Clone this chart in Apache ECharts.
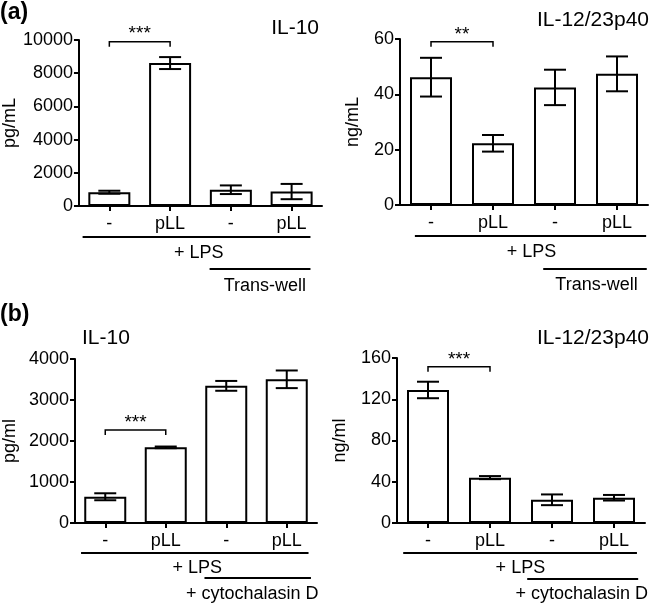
<!DOCTYPE html>
<html>
<head>
<meta charset="utf-8">
<script src="https://cdn.jsdelivr.net/npm/echarts@6/dist/echarts.min.js"></script>
<style>
html,body{margin:0;padding:0;background:#fff;}
#c{width:650px;height:605px;}
</style>
</head>
<body>
<div id="c"></div>
<script>
// ---- data ----
const categories = ['-', 'pLL', '-', 'pLL'];

const il10A = [830, 8610, 980, 870];
const il10AErr = [90, 360, 260, 460];
const il12A = [46.2, 22.3, 42.5, 47.4];
const il12AErr = [7, 3, 6.4, 6.3];

const il10B = [640, 1845, 3345, 3505];
const il10BErr = [85, 20, 120, 215];
const il12B = [129, 44, 22.5, 24.5];
const il12BErr = [8, 1.5, 5.2, 2.7];

const yMaxes = [10000, 60, 4000, 160];
const yIntervals = [2000, 20, 1000, 40];
const yNames = ['pg/mL', 'ng/mL', 'pg/ml', 'ng/ml'];

// significance brackets: [fromCategory, toCategory, level, label]
const sigA1 = [0, 1, 9900, '***'];
const sigA2 = [0, 1, 59, '**'];
const sigB1 = [0, 1, 2270, '***'];
const sigB2 = [0, 1, 151.5, '***'];

// ---- layout / style ----
const FONT = '"Liberation Sans", Arial, Helvetica, sans-serif';
const values = [il10A, il12A, il10B, il12B];
const errs = [il10AErr, il12AErr, il10BErr, il12BErr];
const sigs = [sigA1, sigA2, sigB1, sigB2];
const grids = [
  {left: 74, top: 40, width: 248, height: 166},
  {left: 400, top: 39, width: 248, height: 166},
  {left: 70, top: 359, width: 247, height: 164},
  {left: 397, top: 358, width: 248, height: 165}
];
const nameGaps = [56, 38, 56, 48];

const option = {
  animation: false,
  backgroundColor: '#fff',
  grid: grids.map(g => Object.assign({containLabel: false}, g)),
  xAxis: grids.map((g, i) => ({
    type: 'category', gridIndex: i, data: categories,
    axisLine: {show: true, lineStyle: {color: '#000', width: 2}},
    axisTick: {show: true, alignWithLabel: true, length: 5, lineStyle: {color: '#000', width: 2}},
    axisLabel: {color: '#000', fontSize: 18, fontFamily: FONT, margin: 9, interval: 0},
    splitLine: {show: false}
  })),
  yAxis: grids.map((g, i) => ({
    type: 'value', gridIndex: i, min: 0, max: yMaxes[i], interval: yIntervals[i],
    name: yNames[i], nameLocation: 'middle', nameGap: nameGaps[i], nameRotate: 90,
    nameTextStyle: {color: '#000', fontSize: 18, fontFamily: FONT},
    axisLine: {show: true, lineStyle: {color: '#000', width: 2}},
    axisTick: {show: true, length: 5, lineStyle: {color: '#000', width: 2}},
    axisLabel: {color: '#000', fontSize: 18, fontFamily: FONT, margin: 6, formatter: v => String(v)},
    splitLine: {show: false}
  })),
  series: []
};

values.forEach((vals, i) => {
  option.series.push({
    type: 'bar', xAxisIndex: i, yAxisIndex: i, barWidth: 42,
    data: vals,
    itemStyle: {color: '#fff', borderColor: '#000', borderWidth: 2},
    z: 2
  });
  option.series.push({
    type: 'custom', xAxisIndex: i, yAxisIndex: i, z: 5,
    data: vals.map((v, k) => [k, v - errs[i][k], v + errs[i][k]]),
    renderItem: function (params, api) {
      const x = api.value(0);
      const lo = api.coord([x, api.value(1)]);
      const hi = api.coord([x, api.value(2)]);
      const hw = 11;
      const st = {stroke: '#000', lineWidth: 2, fill: null};
      return {type: 'group', children: [
        {type: 'line', shape: {x1: lo[0], y1: lo[1], x2: hi[0], y2: hi[1]}, style: st},
        {type: 'line', shape: {x1: lo[0] - hw, y1: lo[1], x2: lo[0] + hw, y2: lo[1]}, style: st},
        {type: 'line', shape: {x1: hi[0] - hw, y1: hi[1], x2: hi[0] + hw, y2: hi[1]}, style: st}
      ]};
    }
  });
  option.series.push({
    type: 'custom', xAxisIndex: i, yAxisIndex: i, z: 6, clip: false,
    data: [sigs[i]],
    renderItem: function (params, api) {
      const a = api.coord([api.value(0), api.value(2)]);
      const b = api.coord([api.value(1), api.value(2)]);
      const d = 5;
      return {type: 'group', children: [
        {type: 'polyline', shape: {points: [[a[0], a[1] + d], [a[0], a[1]], [b[0], b[1]], [b[0], b[1] + d]]},
          style: {stroke: '#000', lineWidth: 1.5, fill: null}},
        {type: 'text', style: {text: sigs[i][3], x: (a[0] + b[0]) / 2, y: a[1] + 2,
          align: 'center', verticalAlign: 'bottom', fill: '#000', font: '19px ' + FONT}}
      ]};
    }
  });
});

const chart = echarts.init(document.getElementById('c'), null, {renderer: 'canvas'});
chart.setOption(option);

// ---- annotations below the axes (category units relative to first category) ----
const groupNotes = [
  {lines: [[-0.44, 3.31, 31], [1.65, 3.31, 63]], texts: [['+ LPS', 1.47, 47], ['Trans-well', 2.56, 80]]},
  {lines: [[-0.26, 3.47, 31], [1.81, 3.48, 64]], texts: [['+ LPS', 1.62, 47], ['Trans-well', 2.67, 80]]},
  {lines: [[-0.40, 3.36, 30], [1.64, 3.40, 55]], texts: [['+ LPS', 1.52, 45], ['+ cytochalasin D', 2.43, 71]]},
  {lines: [[-0.40, 3.37, 30], [1.60, 3.39, 56]], texts: [['+ LPS', 1.49, 45], ['+ cytochalasin D', 2.48, 71]]}
];
const graphics = [];
groupNotes.forEach((n, i) => {
  const c0 = chart.convertToPixel({xAxisIndex: i}, 0);
  const c3 = chart.convertToPixel({xAxisIndex: i}, 3);
  const band = (c3 - c0) / 3;
  const y0 = chart.convertToPixel({yAxisIndex: i}, 0);
  n.lines.forEach(l => graphics.push({type: 'line', shape: {x1: c0 + l[0] * band, y1: y0 + l[2], x2: c0 + l[1] * band, y2: y0 + l[2]},
    style: {stroke: '#000', lineWidth: 2}}));
  n.texts.forEach(t => graphics.push({type: 'text', x: c0 + t[1] * band, y: y0 + t[2],
    style: {text: t[0], align: 'center', verticalAlign: 'middle', fill: '#000', font: '18px ' + FONT}}));
});
// panel letters and titles
graphics.push({type: 'text', x: 0, y: 13, style: {text: '(a)', align: 'left', verticalAlign: 'middle', fill: '#000', font: 'bold 23px ' + FONT}});
graphics.push({type: 'text', x: 0, y: 315, style: {text: '(b)', align: 'left', verticalAlign: 'middle', fill: '#000', font: 'bold 23px ' + FONT}});
graphics.push({type: 'text', x: 319, y: 28, style: {text: 'IL-10', align: 'right', verticalAlign: 'middle', fill: '#000', font: '21px ' + FONT}});
graphics.push({type: 'text', x: 649, y: 20, style: {text: 'IL-12/23p40', align: 'right', verticalAlign: 'middle', fill: '#000', font: '21px ' + FONT}});
graphics.push({type: 'text', x: 82, y: 338, style: {text: 'IL-10', align: 'left', verticalAlign: 'middle', fill: '#000', font: '21px ' + FONT}});
graphics.push({type: 'text', x: 649, y: 338, style: {text: 'IL-12/23p40', align: 'right', verticalAlign: 'middle', fill: '#000', font: '21px ' + FONT}});
chart.setOption({graphic: graphics});
</script>
</body>
</html>
